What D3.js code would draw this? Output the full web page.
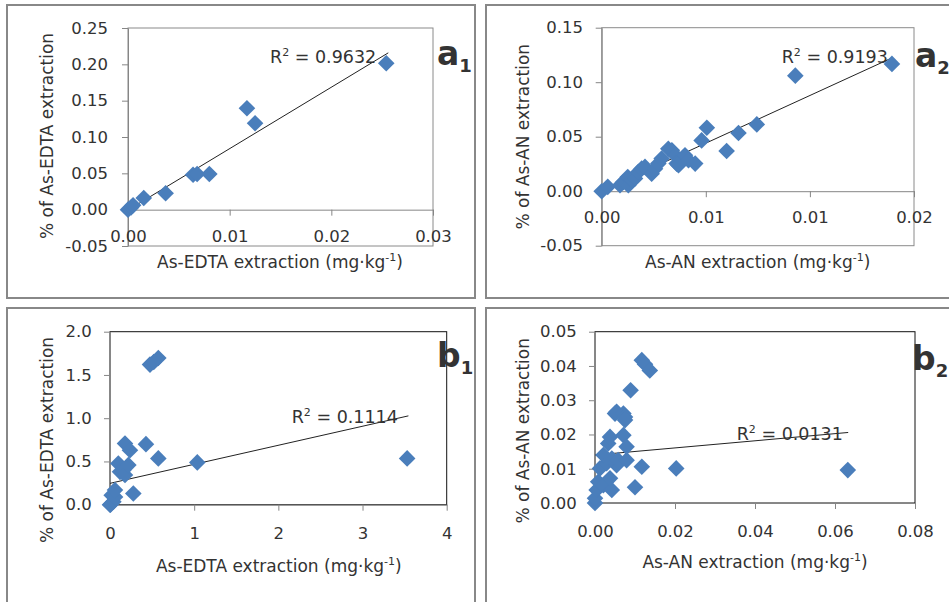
<!DOCTYPE html>
<html lang="en">
<head>
<meta charset="UTF-8">
<title>As extraction scatter</title>
<script src="https://d3js.org/d3.v7.min.js"></script>
<style>
  body { margin: 0; background: #fff; }
  text { font-family: "DejaVu Sans", sans-serif; fill: #333; }
</style>
</head>
<body>
<script>
// ---- data ----
// a1: As-EDTA
var a1X = [0, 0.0003, 0.0005, 0.00155, 0.0037, 0.0064, 0.0068, 0.0080, 0.0117, 0.0125, 0.0254];
var a1Y = [0, 0.003, 0.006, 0.016, 0.0225, 0.048, 0.049, 0.049, 0.1395, 0.119, 0.2014];
var a1Trend = [8.45, -0.0005, 0.0256];   // slope, intercept, x end
var a1XTicks = [0, 0.01, 0.02, 0.03];
var a1XLabels = ["0.00", "0.01", "0.02", "0.03"];
var a1YTicks = [-0.05, 0, 0.05, 0.10, 0.15, 0.20, 0.25];
var a1YLabels = ["-0.05", "0.00", "0.05", "0.10", "0.15", "0.20", "0.25"];

// a2: As-AN
var a2X = [0, 0.00029, 0.00088, 0.00104, 0.00125, 0.00128, 0.00144, 0.0016, 0.00176, 0.00192,
           0.00208, 0.0024, 0.00256, 0.00272, 0.00288, 0.0032, 0.00337, 0.00353, 0.0036, 0.00369,
           0.00385, 0.0040, 0.00417, 0.00449, 0.0048, 0.00505, 0.0060, 0.00657, 0.00745, 0.0093, 0.01394];
var a2Y = [0, 0.004, 0.0055, 0.0085, 0.013, 0.0055, 0.010, 0.0116, 0.0177, 0.0207,
           0.0223, 0.016, 0.0207, 0.0253, 0.0299, 0.039, 0.0375, 0.033, 0.0253, 0.0238,
           0.0284, 0.033, 0.0284, 0.0253, 0.0466, 0.0582, 0.0369, 0.0534, 0.0613, 0.106, 0.1168];
var a2Trend = [8.75, 0.0003, 0.01394];
var a2XTicks = [0, 0.005, 0.010, 0.015];
var a2XLabels = ["0.00", "0.01", "0.01", "0.02"];
var a2YTicks = [-0.05, 0, 0.05, 0.10, 0.15];
var a2YLabels = ["-0.05", "0.00", "0.05", "0.10", "0.15"];

// b1: As-EDTA
var b1X = [0, 0.005, 0.02, 0.04, 0.06, 0.059, 0.099, 0.119, 0.158, 0.178, 0.218, 0.178,
           0.237, 0.277, 0.427, 0.574, 0.475, 0.52, 0.574, 1.037, 3.53];
var b1Y = [0, 0.0, 0.11, 0.035, 0.09, 0.17, 0.477, 0.38, 0.40, 0.343, 0.458, 0.708,
           0.63, 0.13, 0.70, 0.535, 1.62, 1.65, 1.696, 0.489, 0.535];
var b1Trend = [0.22, 0.247, 3.545];
var b1XTicks = [0, 1, 2, 3, 4];
var b1XLabels = ["0", "1", "2", "3", "4"];
var b1YTicks = [0, 0.5, 1.0, 1.5, 2.0];
var b1YLabels = ["0.0", "0.5", "1.0", "1.5", "2.0"];

// b2: As-AN
var b2X = [0, 0, 0.0004, 0.0008, 0.0021, 0.0042, 0.00375, 0.00125, 0.0029, 0.0054, 0.0021,
           0.0042, 0.0058, 0.0079, 0.0033, 0.00375, 0.0071, 0.0079, 0.005, 0.0054, 0.0071,
           0.0075, 0.0075, 0.0089, 0.0117, 0.0125, 0.0137, 0.01, 0.0117, 0.0203, 0.0632];
var b2Y = [0, 0.0014, 0.0038, 0.0062, 0.0052, 0.0038, 0.0072, 0.0101, 0.0116, 0.011, 0.014,
           0.013, 0.0125, 0.0125, 0.0174, 0.0193, 0.0198, 0.0164, 0.0261, 0.0266, 0.0261,
           0.0251, 0.0242, 0.0329, 0.0417, 0.0405, 0.0387, 0.0046, 0.0106, 0.0101, 0.0096];
var b2Trend = [0.104, 0.014, 0.0633];
var b2XTicks = [0, 0.02, 0.04, 0.06, 0.08];
var b2XLabels = ["0.00", "0.02", "0.04", "0.06", "0.08"];
var b2YTicks = [0, 0.01, 0.02, 0.03, 0.04, 0.05];
var b2YLabels = ["0.00", "0.01", "0.02", "0.03", "0.04", "0.05"];

// ---- drawing ----
var width = 949, height = 602;
var svg = d3.select("body").append("svg")
    .attr("width", width)
    .attr("height", height);

var blue = "#4a7ebb";
var axisGray = "#868686";

var panels = [
  { box: [7, 5, 468, 293], xs: a1X, ys: a1Y, trend: a1Trend,
    xDom: [0, 0.03], xRange: [128, 433], yDom: [-0.05, 0.25], yRange: [246, 28],
    xTicks: a1XTicks, xLabels: a1XLabels, yTicks: a1YTicks, yLabels: a1YLabels,
    xLabBase: 241.7, yLabRight: 108, frame: "#8a8a8a",
    xTitle: "As-EDTA extraction (mg·kg", xTitleX: 280, xTitleY: 268,
    yTitle: "% of As-EDTA extraction", yTitleX: 47.5, yTitleY: 136,
    r2: "0.9632", r2X: 270, r2Y: 63, tag: "a", sub: "1", tagX: 437, tagY: 65 },
  { box: [486, 5, 470, 293], xs: a2X, ys: a2Y, trend: a2Trend,
    xDom: [0, 0.015], xRange: [601.7, 914], yDom: [-0.05, 0.15], yRange: [245.7, 27.7],
    xTicks: a2XTicks, xLabels: a2XLabels, yTicks: a2YTicks, yLabels: a2YLabels,
    xLabBase: 223.3, yLabRight: 583, frame: "#8a8a8a",
    xTitle: "As-AN extraction (mg·kg", xTitleX: 757.7, xTitleY: 268,
    yTitle: "% of As-AN extraction", yTitleX: 523, yTitleY: 136.7,
    r2: "0.9193", r2X: 781.7, r2Y: 62.7, tag: "a", sub: "2", tagX: 915, tagY: 67 },
  { box: [7, 308, 468, 300], xs: b1X, ys: b1Y, trend: b1Trend,
    xDom: [0, 4], xRange: [110, 446.7], yDom: [0, 2], yRange: [504.7, 331.7],
    xTicks: b1XTicks, xLabels: b1XLabels, yTicks: b1YTicks, yLabels: b1YLabels,
    xLabBase: 539, yLabRight: 91.7, frame: "#111",
    xTitle: "As-EDTA extraction (mg·kg", xTitleX: 278.8, xTitleY: 571.7,
    yTitle: "% of As-EDTA extraction", yTitleX: 46.7, yTitleY: 440,
    r2: "0.1114", r2X: 291.7, r2Y: 422.7, tag: "b", sub: "1", tagX: 437, tagY: 367 },
  { box: [486, 308, 470, 300], xs: b2X, ys: b2Y, trend: b2Trend,
    xDom: [0, 0.08], xRange: [595, 915], yDom: [0, 0.05], yRange: [503, 331.7],
    xTicks: b2XTicks, xLabels: b2XLabels, yTicks: b2YTicks, yLabels: b2YLabels,
    xLabBase: 537, yLabRight: 576.7, frame: "#111",
    xTitle: "As-AN extraction (mg·kg", xTitleX: 755, xTitleY: 568,
    yTitle: "% of As-AN extraction", yTitleX: 523.3, yTitleY: 430.8,
    r2: "0.0131", r2X: 736.7, r2Y: 440, tag: "b", sub: "2", tagX: 912, tagY: 370 }
];

panels.forEach(function(p) {
  var g = svg.append("g");

  // outer panel frame
  g.append("rect")
    .attr("x", p.box[0]).attr("y", p.box[1])
    .attr("width", p.box[2]).attr("height", p.box[3])
    .attr("fill", "none")
    .attr("stroke", "#888")
    .attr("stroke-width", 2);

  var x = d3.scaleLinear().domain(p.xDom).range(p.xRange);
  var y = d3.scaleLinear().domain(p.yDom).range(p.yRange);

  // plot area border
  g.append("rect")
    .attr("x", p.xRange[0]).attr("y", p.yRange[1])
    .attr("width", p.xRange[1] - p.xRange[0])
    .attr("height", p.yRange[0] - p.yRange[1])
    .attr("fill", "none")
    .attr("stroke", p.frame)
    .attr("stroke-width", 1);

  // y axis
  var yAxis = g.append("g")
    .attr("transform", "translate(" + p.xRange[0] + ",0)")
    .call(d3.axisLeft(y)
      .tickValues(p.yTicks)
      .tickFormat(function(d, i) { return p.yLabels[i]; })
      .tickSize(6)
      .tickSizeOuter(0)
      .tickPadding(p.xRange[0] - p.yLabRight - 6));
  yAxis.attr("font-family", null);
  yAxis.select(".domain").attr("stroke", axisGray);
  yAxis.selectAll("line").attr("stroke", axisGray);
  yAxis.selectAll("text")
    .attr("font-size", 16.5)
    .attr("fill", "#333");

  // x axis, crossing at y = 0, labels at bottom
  var y0 = y(0);
  var xAxis = g.append("g")
    .attr("transform", "translate(0," + y0 + ")")
    .call(d3.axisBottom(x)
      .tickValues(p.xTicks)
      .tickFormat(function(d, i) { return p.xLabels[i]; })
      .tickSize(6)
      .tickSizeOuter(0));
  xAxis.attr("font-family", null);
  xAxis.select(".domain").attr("stroke", axisGray);
  xAxis.selectAll("line").attr("stroke", axisGray);
  xAxis.selectAll("text")
    .attr("font-size", 16.5)
    .attr("fill", "#333")
    .attr("dy", null)
    .attr("y", p.xLabBase - y0);

  // trend line
  var t = p.trend;
  g.append("line")
    .attr("x1", x(0)).attr("y1", y(t[1]))
    .attr("x2", x(t[2])).attr("y2", y(t[0] * t[2] + t[1]))
    .attr("stroke", "#222")
    .attr("stroke-width", 1);

  // points
  var pts = p.xs.map(function(v, i) { return [v, p.ys[i]]; });
  g.selectAll("path.pt")
    .data(pts)
    .enter()
    .append("path")
    .attr("class", "pt")
    .attr("d", d3.symbol().type(d3.symbolSquare).size(138))
    .attr("transform", function(d) {
      return "translate(" + x(d[0]) + "," + y(d[1]) + ") rotate(45)";
    })
    .attr("fill", blue);

  // R2 label
  var r = g.append("text")
    .attr("x", p.r2X).attr("y", p.r2Y)
    .attr("font-size", 17.5);
  r.append("tspan").text("R");
  r.append("tspan").attr("font-size", 11).attr("dy", -7).text("2");
  r.append("tspan").attr("dy", 7).text(" = " + p.r2);

  // x title
  var xt = g.append("text")
    .attr("x", p.xTitleX).attr("y", p.xTitleY)
    .attr("text-anchor", "middle")
    .attr("font-size", 17);
  xt.append("tspan").text(p.xTitle);
  xt.append("tspan").attr("font-size", 11).attr("dy", -7).text("-1");
  xt.append("tspan").attr("dy", 7).text(")");

  // y title
  g.append("text")
    .attr("transform", "translate(" + p.yTitleX + "," + p.yTitleY + ") rotate(-90)")
    .attr("text-anchor", "middle")
    .attr("dy", "0.35em")
    .attr("font-size", 17)
    .text(p.yTitle);

  // panel tag
  var tg = g.append("text")
    .attr("x", p.tagX).attr("y", p.tagY)
    .attr("font-family", "Liberation Sans, Arial, sans-serif")
    .attr("font-weight", "bold")
    .attr("font-size", 33)
    .attr("fill", "#111");
  tg.append("tspan").text(p.tag);
  tg.append("tspan").attr("font-size", 18).attr("dy", 7).text(p.sub);
});
</script>
</body>
</html>
